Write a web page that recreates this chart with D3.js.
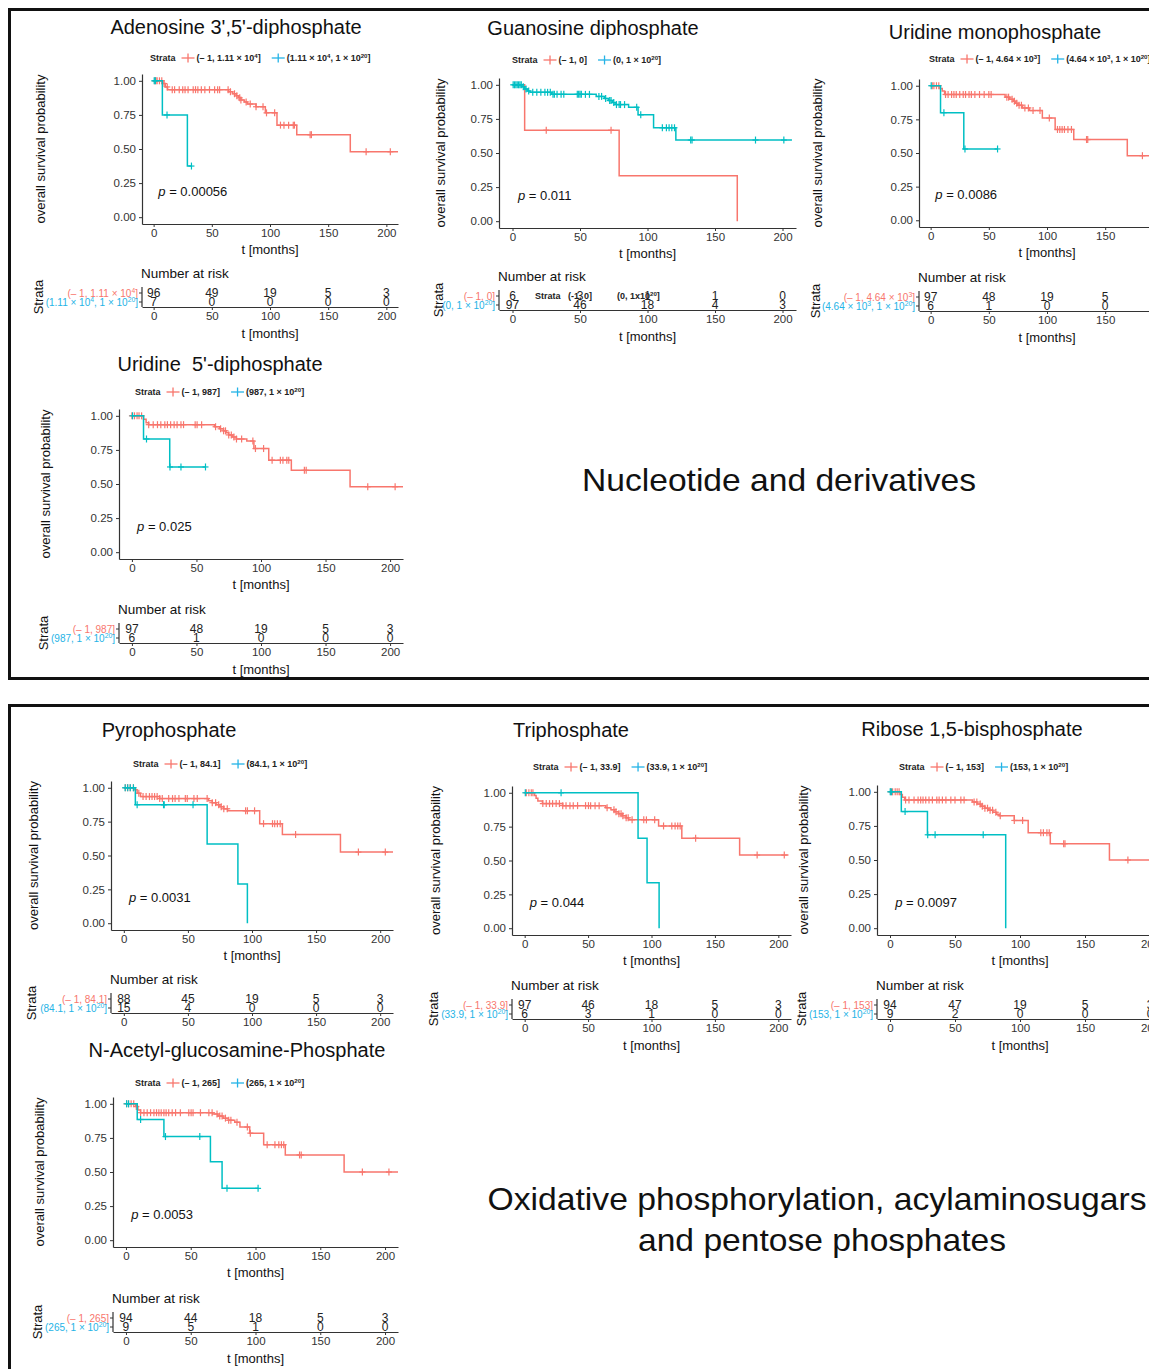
<!DOCTYPE html>
<html>
<head>
<meta charset="utf-8">
<script src="https://cdnjs.cloudflare.com/ajax/libs/d3/7.8.5/d3.min.js"></script>
<style>
  body { margin: 0; background: #fff; }
  svg { font-family: "Liberation Sans", Arial, sans-serif; }
</style>
</head>
<body>
<svg id="fig" width="1149" height="1369"></svg>
<script>
// ---- data ----
const panelTitles = ["Adenosine 3',5'-diphosphate", "Guanosine diphosphate", "Uridine monophosphate",
  "Uridine  5'-diphosphate", "Pyrophosphate", "Triphosphate", "Ribose 1,5-bisphosphate",
  "N-Acetyl-glucosamine-Phosphate"];
const pValues = ["0.00056", "0.011", "0.0086", "0.025", "0.0031", "0.044", "0.0097", "0.0053"];
// ^n marks a superscript
const lowLabels = ["(\u2013 1, 1.11 \u00d7 10^4]", "(\u2013 1, 0]", "(\u2013 1, 4.64 \u00d7 10^3]", "(\u2013 1, 987]",
  "(\u2013 1, 84.1]", "(\u2013 1, 33.9]", "(\u2013 1, 153]", "(\u2013 1, 265]"];
const highLabels = ["(1.11 \u00d7 10^4, 1 \u00d7 10^20]", "(0, 1 \u00d7 10^20]", "(4.64 \u00d7 10^3, 1 \u00d7 10^20]",
  "(987, 1 \u00d7 10^20]", "(84.1, 1 \u00d7 10^20]", "(33.9, 1 \u00d7 10^20]", "(153, 1 \u00d7 10^20]", "(265, 1 \u00d7 10^20]"];
const groupTitles = ["Nucleotide and derivatives", "Oxidative phosphorylation, acylaminosugars", "and pentose phosphates"];

const timeTicks = [0, 50, 100, 150, 200];
const survTicks = [0, 0.25, 0.5, 0.75, 1];
const riskLow = [[96,49,19,5,3],[6,3,1,1,0],[97,48,19,5,3],[97,48,19,5,3],[88,45,19,5,3],[97,46,18,5,3],[94,47,19,5,3],[94,44,18,5,3]];
const riskHigh = [[7,0,0,0,0],[97,46,18,4,3],[6,1,0,0,0],[6,1,0,0,0],[15,4,0,0,0],[6,3,1,0,0],[9,2,0,0,0],[9,5,1,0,0]];

// KM steps: [time, survival after that time]
const lowSteps = [
  [[0,1],[8,0.98],[10,0.955],[12,0.935],[64.5,0.92],[68,0.905],[71,0.89],[73,0.875],[75,0.86],[78,0.845],[80.5,0.83],[88,0.81],[96,0.765],[106,0.675],[123,0.605],[169,0.48]],
  [[0,1],[9,0.667],[79,0.333],[166.5,0]],
  [[0,1],[8,0.98],[10,0.96],[12,0.935],[64,0.915],[68,0.9],[71,0.885],[73,0.87],[75,0.855],[79,0.835],[85,0.815],[96,0.76],[107,0.675],[123,0.6],[169,0.48]],
  [[0,1],[9,0.975],[11,0.95],[13,0.935],[64,0.92],[68,0.905],[71,0.89],[73,0.875],[75,0.86],[78,0.845],[81,0.83],[89,0.815],[94.5,0.76],[106,0.675],[123.5,0.6],[169,0.48]],
  [[0,1],[7.8,0.985],[10.4,0.96],[13,0.935],[28,0.92],[66,0.905],[69,0.89],[72,0.875],[75,0.86],[78,0.845],[81,0.83],[106,0.735],[123.7,0.655],[169,0.525]],
  [[0,1],[7.8,0.98],[9,0.96],[10.4,0.94],[14,0.92],[30,0.905],[64,0.89],[68,0.875],[71,0.86],[74,0.845],[77,0.83],[80,0.815],[82,0.8],[105.6,0.755],[123.9,0.665],[169.5,0.54]],
  [[0,1],[7.7,0.98],[9.5,0.96],[11.3,0.94],[63.5,0.925],[67,0.91],[70,0.895],[73,0.88],[76,0.865],[79,0.85],[82,0.835],[84,0.825],[95.6,0.79],[106.3,0.7],[123.3,0.62],[168.8,0.5]],
  [[0,1],[7.4,0.98],[9.2,0.955],[11.3,0.935],[67,0.925],[71,0.91],[75,0.895],[79,0.88],[84,0.865],[88,0.83],[95.5,0.785],[106.3,0.7],[123,0.625],[168.4,0.5]]
];
const lowCensor = [
  [1,2,3,5,7,9,11.7,16,18,22,25,27,29.6,34,36,38,41,44,48,52.4,55,56.7,64,66,69.5,71.5,74,75,79.5,83,88,94,97,104,109,112,116,120,121,134.5,135.6,182.6,203.4],
  [25,73],
  [1.4,2.8,5,7,12.8,15,18,20,22,25,28,30,33,35,38,42,46,50,52,65.5,67,70,72,74,76,78,81,84,88,94,102,109,111,113,115,118,121,134,135,182],
  [0,2,4,5.5,7.5,13,16.5,19.8,22.4,25.5,27.5,30,32.7,35,38,40,49,50.5,54,64.8,68.7,71,72.5,75,77,79,81,85,93.7,95.7,102,108.6,115,117,120,121.5,133.6,135,182.7,203.9],
  [1.3,3,5,7.5,11.7,15,17.4,20,22,24,26,28,30,35,38,40,43,48,49.5,54.7,57.3,65,69,71.6,74,76,78,80.7,95,96.4,102,109,116,117.7,119.8,122,134,183,204],
  [1.3,3.3,5.2,6.5,14.3,17,19.6,22,24.8,27.4,30,32.6,35.7,38.3,41.7,48,50.3,52,55.5,58.7,65,70.4,72,74.3,76,77.4,80,81.6,84.7,93.9,96,102.5,109.5,116,118.6,120.7,122.6,134.8,183.3,204.7],
  [0.5,2,4,5.5,7,12,14.6,18.5,21.6,23.6,25.4,27.5,30,32.6,36,37.8,40.3,43,46.8,50,54.5,57,64.7,66.8,69.4,71,73,75,77,78.9,81.4,84.8,95.6,102,116,118,120.7,122.5,133.6,134.6,183],
  [0.5,2,4,6,8,11.3,13.9,16.4,19,21.6,23.6,25.4,27.2,29.3,31,33,35.7,38.3,42,48.5,50.3,51.8,57.5,64,66.5,70.3,72.4,74.2,76.8,79.3,81,85.7,93.7,96,109,115,118,120,121.8,134,135.3,182.5,203]
];
const lowEnd = [210, 166.5, 210, 210, 210, 208, 210, 210];

const highSteps = [
  [[0,1],[7.5,0.75],[29,0.375]],
  [[0,1],[7,0.985],[9,0.97],[11,0.955],[13,0.945],[29,0.93],[62,0.915],[68,0.9],[71,0.885],[74,0.87],[76,0.855],[86,0.835],[93,0.78],[104.5,0.685],[121,0.595]],
  [[0,1],[8.5,0.8],[28.5,0.53]],
  [[0,1],[9,0.83],[29.3,0.625]],
  [[0,1],[9,0.875],[65,0.585],[89,0.29],[96.4,0]],
  [[0,1],[89.4,0.665],[96.5,0.335],[106,0]],
  [[0,1],[8.7,0.855],[28.8,0.685],[89,0]],
  [[0,1],[8.7,0.885],[29.3,0.76],[65.2,0.575],[74.2,0.38]]
];
const highCensor = [
  [0.5,1.5,11.5,32.5],
  [0.5,1.5,2.5,3.5,4.5,5.5,6.5,8,10,12,15,18,21,24,26,28,30,31,33,36,38,48,49,50,51,54,57,64,66,69,72,73,75,77,79,80,83,92,95,111,114,116,118,120,132,133,180,201],
  [0.5,11.4,29.5,57.5],
  [0.5,11.3,29.5,38,57],
  [1,3,5,7.5,10.4,31,31.5,54],
  [0.5,28.7],
  [0.2,1.2,11.6,29,34.7,71.7],
  [0.5,2,11.3,30.5,57,78,102]
];
const highEnd = [32.5, 207, 57.5, 57, 96.4, 106, 89, 102];

// ---- layout ----
const layout = [
  {left:142, right:398, top:74,   bottom:224,  riskY:307,  titleX:236, titleY:27,   legX:150, legY:58,   yTitleX:40,  riskLabel:true},
  {left:499, right:796, top:78,   bottom:228,  riskY:310,  titleX:593, titleY:28,   legX:512, legY:60,   yTitleX:440, riskLabel:true},
  {left:919, right:1175,top:79,   bottom:227,  riskY:311,  titleX:995, titleY:32,   legX:929, legY:59,   yTitleX:817, riskLabel:true},
  {left:119, right:403, top:409,  bottom:559,  riskY:643,  titleX:220, titleY:364,  legX:135, legY:392,  yTitleX:45,  riskLabel:true},
  {left:111, right:393, top:781,  bottom:930,  riskY:1013, titleX:169, titleY:730,  legX:133, legY:764,  yTitleX:33,  riskLabel:false},
  {left:512, right:791, top:786,  bottom:935,  riskY:1019, titleX:571, titleY:730,  legX:533, legY:767,  yTitleX:435, riskLabel:true},
  {left:877, right:1163,top:785,  bottom:935,  riskY:1019, titleX:972, titleY:729,  legX:899, legY:767,  yTitleX:803, riskLabel:true},
  {left:113, right:398, top:1097, bottom:1247, riskY:1332, titleX:237, titleY:1050, legX:135, legY:1083, yTitleX:39,  riskLabel:true}
];
const RED = "#F8766D", TEAL = "#00BFC4", BLUE = "#25B3E6";
const AXIS = "#333";

const svg = d3.select("#fig");

// frames
svg.append("rect").attr("x", 9.5).attr("y", 9.5).attr("width", 1160).attr("height", 669)
  .style("fill", "none").style("stroke", "#111").style("stroke-width", 3);
svg.append("rect").attr("x", 9.5).attr("y", 705.5).attr("width", 1160).attr("height", 700)
  .style("fill", "none").style("stroke", "#111").style("stroke-width", 3);

// text with ^n superscripts
function richText(sel, str, size) {
  const parts = str.split(/\^(\d+)/);
  let shift = 0;
  parts.forEach((p, i) => {
    if (p === "") return;
    const sup = i % 2 === 1;
    const ts = sel.append("tspan").text(p);
    const target = sup ? -size * 0.35 : 0;
    if (target !== shift) { ts.attr("dy", target - shift); shift = target; }
    if (sup) ts.style("font-size", (size * 0.68) + "px");
  });
  return sel;
}

function survAt(steps, t) {
  let s = 1;
  steps.forEach(d => { if (d[0] <= t) s = d[1]; });
  return s;
}

function styleAxis(a) {
  a.select(".domain").style("stroke", AXIS).style("stroke-width", 1.2);
  a.selectAll(".tick line").style("stroke", AXIS);
  a.selectAll(".tick text").style("font-size", "11.5px").style("fill", "#333")
    .style("font-family", "'Liberation Sans', Arial, sans-serif");
}

function drawPanel(i) {
  const L = layout[i];
  const g = svg.append("g");
  const x = d3.scaleLinear().domain([-10, 210]).range([L.left, L.right]);
  const y = d3.scaleLinear().domain([-0.05, 1.05]).range([L.bottom, L.top]);

  // title
  g.append("text").attr("x", L.titleX).attr("y", L.titleY).attr("dy", "0.35em")
    .attr("text-anchor", "middle").style("font-size", "20px").style("fill", "#111")
    .style("white-space", "pre").attr("xml:space", "preserve").text(panelTitles[i]);

  // legend
  const leg = g.append("g").attr("transform", `translate(${L.legX},${L.legY})`);
  let lx = 0;
  const st = leg.append("text").attr("x", lx).attr("dy", "0.35em").style("font-size", "9px")
    .style("font-weight", "bold").style("fill", "#222").text("Strata");
  lx += st.node().getComputedTextLength() + 6;
  [[RED, lowLabels[i]], [BLUE, highLabels[i]]].forEach(([c, lab]) => {
    leg.append("line").attr("x1", lx).attr("x2", lx + 13).attr("y1", 0).attr("y2", 0)
      .style("stroke", c).style("stroke-width", 1.3);
    leg.append("line").attr("x1", lx + 6.5).attr("x2", lx + 6.5).attr("y1", -4.5).attr("y2", 4.5)
      .style("stroke", c).style("stroke-width", 1.3);
    lx += 15;
    const t = richText(leg.append("text").attr("x", lx).attr("dy", "0.35em").style("font-size", "9px")
      .style("font-weight", "bold").style("fill", "#222"), lab, 9);
    lx += t.node().getComputedTextLength() + 11;
  });

  // axes
  styleAxis(g.append("g").attr("transform", `translate(0,${L.bottom})`)
    .call(d3.axisBottom(x).tickValues(timeTicks).tickSize(3).tickSizeOuter(0).tickPadding(2)));
  styleAxis(g.append("g").attr("transform", `translate(${L.left},0)`)
    .call(d3.axisLeft(y).tickValues(survTicks).tickFormat(d3.format(".2f")).tickSize(3).tickSizeOuter(0).tickPadding(3)));

  g.append("text").attr("transform", `translate(${L.yTitleX},${(L.top + L.bottom) / 2}) rotate(-90)`)
    .attr("text-anchor", "middle").attr("dy", "0.35em").style("font-size", "13px").style("fill", "#111")
    .text("overall survival probability");
  g.append("text").attr("x", (L.left + L.right) / 2).attr("y", L.bottom + 25).attr("dy", "0.35em")
    .attr("text-anchor", "middle").style("font-size", "13px").style("fill", "#111").text("t [months]");

  // curves
  const line = d3.line().x(d => x(d[0])).y(d => y(d[1])).curve(d3.curveStepAfter);
  const series = [
    {steps: lowSteps[i], cens: lowCensor[i], end: lowEnd[i], col: RED},
    {steps: highSteps[i], cens: highCensor[i], end: highEnd[i], col: TEAL}
  ];
  series.forEach(s => {
    const pts = s.steps.concat([[s.end, s.steps[s.steps.length - 1][1]]]);
    g.append("path").datum(pts).attr("d", line)
      .style("fill", "none").style("stroke", s.col).style("stroke-width", 1.5);
    const cg = g.append("g").selectAll("g").data(s.cens).enter().append("g")
      .attr("transform", d => `translate(${x(d)},${y(survAt(s.steps, d))})`);
    cg.append("line").attr("x1", 0).attr("x2", 0).attr("y1", -3.5).attr("y2", 3.5)
      .style("stroke", s.col).style("stroke-width", 1.2);
    cg.append("line").attr("x1", -3).attr("x2", 3).attr("y1", 0).attr("y2", 0)
      .style("stroke", s.col).style("stroke-width", 1.2);
  });

  // p value
  const pt = g.append("text").attr("x", x(4)).attr("y", y(0.19)).attr("dy", "0.35em")
    .style("font-size", "13px").style("fill", "#111");
  pt.append("tspan").style("font-style", "italic").text("p");
  pt.append("tspan").text(" = " + pValues[i]);

  // risk table
  const R = L.riskY;
  g.append("text").attr("x", L.left - 1).attr("y", R - 34).attr("dy", "0.35em")
    .style("font-size", "13.5px").style("fill", "#111").text("Number at risk");
  styleAxis(g.append("g").attr("transform", `translate(0,${R})`)
    .call(d3.axisBottom(x).tickValues(timeTicks).tickSize(3).tickSizeOuter(0).tickPadding(2)));
  g.append("line").attr("x1", L.left).attr("x2", L.left).attr("y1", R - 20).attr("y2", R)
    .style("stroke", AXIS).style("stroke-width", 1.2);
  if (L.riskLabel) {
    g.append("text").attr("x", (L.left + L.right) / 2).attr("y", R + 26).attr("dy", "0.35em")
      .attr("text-anchor", "middle").style("font-size", "13px").style("fill", "#111").text("t [months]");
  }
  g.append("text").attr("transform", `translate(${L.yTitleX - 2},${R - 10}) rotate(-90)`)
    .attr("text-anchor", "middle").attr("dy", "0.35em").style("font-size", "13px").style("fill", "#111")
    .text("Strata");

  [[riskLow[i], R - 14, RED, lowLabels[i]], [riskHigh[i], R - 5, BLUE, highLabels[i]]].forEach(([vals, ry, c, lab]) => {
    g.append("line").attr("x1", L.left - 3).attr("x2", L.left).attr("y1", ry).attr("y2", ry)
      .style("stroke", AXIS);
    richText(g.append("text").attr("x", L.left - 4).attr("y", ry).attr("dy", "0.35em")
      .attr("text-anchor", "end").style("font-size", "10px").style("fill", c), lab, 10);
    g.selectAll(null).data(vals).enter().append("text")
      .attr("x", (d, k) => x(timeTicks[k])).attr("y", ry).attr("dy", "0.35em")
      .attr("text-anchor", "middle").style("font-size", "12px").style("fill", "#222")
      .text(d => d);
  });
  return {x, R};
}

const drawn = layout.map((L, i) => drawPanel(i));

// stray legend text sitting in the Guanosine risk table
const gr = drawn[1].R - 14;
[["Strata", 535], ["(-1, 0]", 568], ["(0, 1x10^20]", 617]].forEach(([t, px]) => {
  richText(svg.append("text").attr("x", px).attr("y", gr).attr("dy", "0.35em")
    .style("font-size", "9px").style("font-weight", "bold").style("fill", "#222"), t, 9);
});

// section labels
svg.append("text").attr("x", 779).attr("y", 480).attr("dy", "0.35em").attr("text-anchor", "middle")
  .attr("textLength", 394).attr("lengthAdjust", "spacingAndGlyphs")
  .style("font-size", "32px").style("fill", "#111").text(groupTitles[0]);
svg.append("text").attr("x", 817).attr("y", 1199).attr("dy", "0.35em").attr("text-anchor", "middle")
  .attr("textLength", 659).attr("lengthAdjust", "spacingAndGlyphs")
  .style("font-size", "32px").style("fill", "#111").text(groupTitles[1]);
svg.append("text").attr("x", 822).attr("y", 1240).attr("dy", "0.35em").attr("text-anchor", "middle")
  .attr("textLength", 368).attr("lengthAdjust", "spacingAndGlyphs")
  .style("font-size", "32px").style("fill", "#111").text(groupTitles[2]);
</script>
</body>
</html>
